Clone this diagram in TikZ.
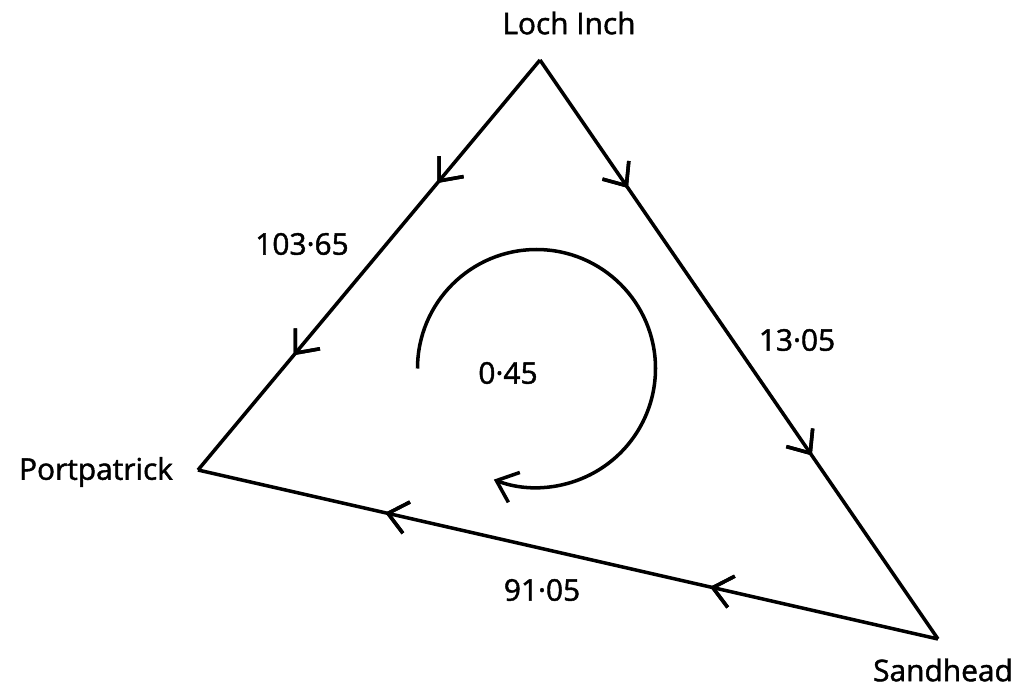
\documentclass[tikz,border=0pt]{standalone}
\usepackage{fontspec}
\setmainfont{Open Sans}[FakeBold=1.5]
\usepackage{tikz}
\usetikzlibrary{arrows.meta,decorations.markings}

\tikzset{
  place/.style={font=\fontsize{17}{20}\selectfont},
  barb/.tip={Straight Barb[length=3.8mm, width=6.4mm, line width=2pt]},
  flow/.style={line width=2pt, postaction={decorate}, decoration={markings,
      mark=at position #1 with {\arrow{barb}}}}
}

\begin{document}
\begin{tikzpicture}
    \useasboundingbox (0,0) rectangle (20.28,-13.82);

    \coordinate (loch) at (10.8,-1.2);
    \coordinate (port) at (3.96,-9.4);
    \coordinate (sand) at (18.76,-12.78);

    \node[place] (lochlbl) at (11.38,-0.46) {Loch Inch};
    \node[place] (portlbl) at (1.92,-9.44) {Portpatrick};
    \node[place] (sandlbl) at (18.86,-13.4) {Sandhead};

    \draw[flow=0.30, flow=0.72] (loch) -- (port);
    \draw[flow=0.221, flow=0.683] (loch) -- (sand);
    \draw[flow=0.308, flow=0.747] (sand) -- (port);

    \node[place] (west) at (6.04,-4.88) {103·65};
    \node[place] (east) at (15.94,-6.8) {13·05};
    \node[place] (south) at (10.84,-11.8) {91·05};
    \node[place] (loop) at (10.16,-7.46) {0·45};

    \coordinate (loopstart) at (8.35,-7.37);
    \draw[line width=2pt, -{barb}]
        (loopstart) arc[start angle=180, end angle=-111, radius=2.38];
\end{tikzpicture}
\end{document}
